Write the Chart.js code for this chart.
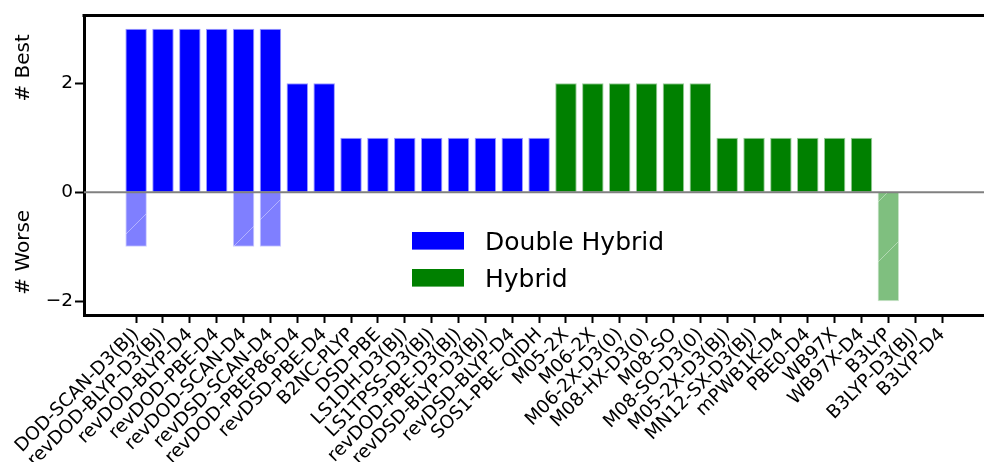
<!DOCTYPE html>
<html><head><meta charset="utf-8">
<script src="https://cdn.jsdelivr.net/npm/chart.js@4.4.1/dist/chart.umd.min.js"></script>
<style>html,body{margin:0;padding:0;background:#fff;overflow:hidden}#wrap{width:984px;height:462px;position:relative}</style>
</head><body><div id="wrap"><canvas id="c" width="984" height="462"></canvas></div>
<script>
const categories = ['DOD-SCAN-D3(BJ)','revDOD-BLYP-D3(BJ)','revDOD-BLYP-D4','revDOD-PBE-D4','revDOD-SCAN-D4','revDSD-SCAN-D4','revDOD-PBEP86-D4','revDSD-PBE-D4','B2NC-PLYP','DSD-PBE','LS1DH-D3(BJ)','LS1TPSS-D3(BJ)','revDOD-PBE-D3(BJ)','revDSD-BLYP-D3(BJ)','revDSD-BLYP-D4','SOS1-PBE-QIDH','M05-2X','M06-2X','M06-2X-D3(0)','M08-HX-D3(0)','M08-SO','M08-SO-D3(0)','M05-2X-D3(BJ)','MN12-SX-D3(BJ)','mPWB1K-D4','PBE0-D4','WB97X','WB97X-D4','B3LYP','B3LYP-D3(BJ)','B3LYP-D4'];
const groups = ['Double Hybrid','Double Hybrid','Double Hybrid','Double Hybrid','Double Hybrid','Double Hybrid','Double Hybrid','Double Hybrid','Double Hybrid','Double Hybrid','Double Hybrid','Double Hybrid','Double Hybrid','Double Hybrid','Double Hybrid','Double Hybrid','Hybrid','Hybrid','Hybrid','Hybrid','Hybrid','Hybrid','Hybrid','Hybrid','Hybrid','Hybrid','Hybrid','Hybrid','Hybrid','Hybrid','Hybrid'];
const bestCounts = [3,3,3,3,3,3,2,2,1,1,1,1,1,1,1,1,2,2,2,2,2,2,1,1,1,1,1,1,0,0,0];
const worseCounts = [-1,0,0,0,-1,-1,0,0,0,0,0,0,0,0,0,0,0,0,0,0,0,0,0,0,0,0,0,0,-2,0,0];
const seriesNames = ['Double Hybrid','Hybrid'];
const seriesColors = [[0,0,255],[0,128,0]];
const yTicks = [-2,0,2];
const yTitles = ['# Best','# Worse'];

Chart.defaults.font.family = "'DejaVu Sans', sans-serif";
Chart.defaults.color = '#000';

function rgba(c,a){return 'rgba('+c[0]+','+c[1]+','+c[2]+','+a+')';}
function hatch(c){
  const s=60, p=document.createElement('canvas'); p.width=p.height=s;
  const g=p.getContext('2d');
  g.fillStyle=rgba(c,0.5); g.fillRect(0,0,s,s);
  g.strokeStyle='rgba(255,255,255,0.4)'; g.lineWidth=1;
  g.beginPath(); g.moveTo(-1,s+1); g.lineTo(s+1,-1); g.stroke();
  return g.createPattern(p,'repeat');
}

const datasets = [];
seriesNames.forEach((name,k)=>{
  const c = seriesColors[k];
  const idx = categories.map((_,i)=>i).filter(i=>groups[i]===name);
  datasets.push({label:name, legend:true, data: idx.filter(i=>bestCounts[i]!==0).map(i=>({x:i,y:bestCounts[i]})),
    backgroundColor: rgba(c,1), borderColor: rgba(c,0.4), borderWidth:1, grouped:false, barPercentage:0.8, categoryPercentage:1});
  datasets.push({label:name+' (worse)', legend:false, data: idx.filter(i=>worseCounts[i]!==0).map(i=>({x:i,y:worseCounts[i]})),
    backgroundColor: hatch(c), borderColor: rgba(c,0.2), borderWidth:1, grouped:false, barPercentage:0.8, categoryPercentage:1});
});

const extras = {
  id:'extras',
  afterDatasetsDraw(chart){
    const ctx=chart.ctx, a=chart.chartArea, y=chart.scales.y;
    ctx.save();
    const y0=y.getPixelForValue(0);
    ctx.strokeStyle='#808080'; ctx.lineWidth=2;
    ctx.beginPath(); ctx.moveTo(a.left,y0); ctx.lineTo(a.right,y0); ctx.stroke();
    ctx.strokeStyle='#000'; ctx.lineWidth=3;
    ctx.beginPath(); ctx.moveTo(a.left-1.5,a.top+0.5); ctx.lineTo(a.right,a.top+0.5); ctx.stroke();
    ctx.fillStyle='#000'; ctx.font="20px 'DejaVu Sans'"; ctx.textAlign='center'; ctx.textBaseline='alphabetic';
    [[yTitles[0],2.28],[yTitles[1],-1.1]].forEach(t=>{
      ctx.save(); ctx.translate(29,y.getPixelForValue(t[1])); ctx.rotate(-Math.PI/2); ctx.fillText(t[0],0,0); ctx.restore();
    });
    ctx.font="25px 'DejaVu Sans'"; ctx.textAlign='left';
    const legendSets = chart.data.datasets.filter(d=>d.legend);
    legendSets.forEach((d,i)=>{
      const top = 232 + i*37;
      ctx.fillStyle=d.backgroundColor; ctx.fillRect(412,top,52,17.5);
      ctx.strokeStyle=d.borderColor; ctx.lineWidth=1; ctx.strokeRect(412.5,top+0.5,51,16.5);
      ctx.fillStyle='#000'; ctx.fillText(d.label,485,top+17.5);
    });
    ctx.restore();
  }
};

new Chart(document.getElementById('c'),{
  type:'bar',
  data:{datasets},
  options:{
    responsive:false, animation:false, devicePixelRatio:1,
    layout:{padding:{top:15,left:0,right:0,bottom:0}},
    plugins:{legend:{display:false}, tooltip:{enabled:false}},
    scales:{
      x:{type:'linear', offset:false, min:-1.94, max:31.56,
        grid:{offset:false, drawOnChartArea:false, drawTicks:true, tickLength:8, tickColor:'#000', tickWidth:2},
        border:{display:true, color:'#000', width:3},
        afterBuildTicks(s){ s.ticks = categories.map((_,i)=>({value:i})); },
        afterFit(s){ s.height = 147; },
        ticks:{autoSkip:false, maxRotation:45, minRotation:45, padding:1, font:{size:18.5},
          callback:(v)=>categories[v]}
      },
      y:{type:'linear', min:-2.25, max:3.25,
        grid:{drawOnChartArea:false, drawTicks:true, tickLength:9, tickColor:'#000', tickWidth:2},
        border:{display:true, color:'#000', width:3},
        afterBuildTicks(s){ s.ticks = yTicks.map(v=>({value:v})); },
        afterFit(s){ s.width = 84; },
        ticks:{padding:2, font:{size:18.5}, callback:(v)=> v<0 ? '\u2212'+Math.abs(v) : String(v)}
      }
    }
  },
  plugins:[extras]
});
</script></body></html>
